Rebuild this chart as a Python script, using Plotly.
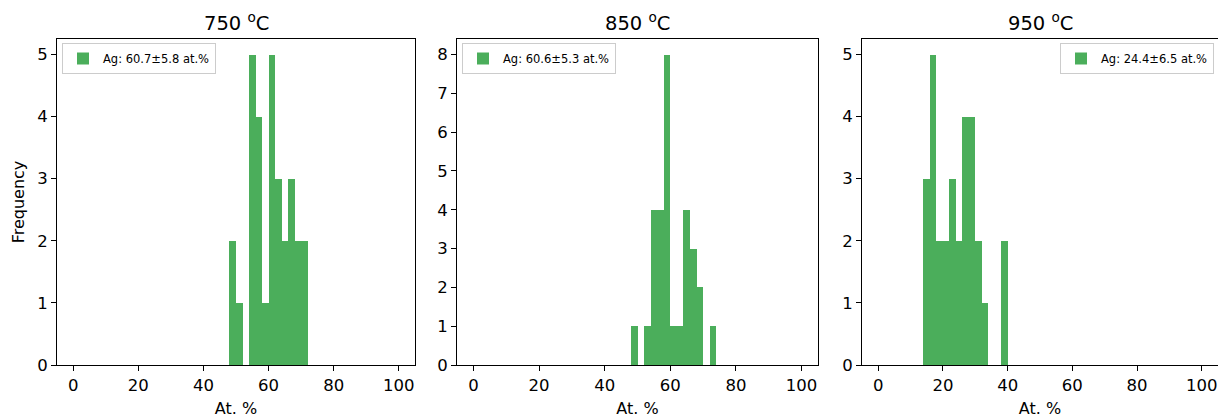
import plotly.graph_objects as go

# Histogram data (bin left edges, counts), bin width 2 at.%
titles = ["750 <sup>o</sup>C", "850 <sup>o</sup>C", "950 <sup>o</sup>C"]
legend_labels = ["Ag: 60.7±5.8 at.%", "Ag: 60.6±5.3 at.%", "Ag: 24.4±6.5 at.%"]

bins_750 = [48, 50, 54, 56, 58, 60, 62, 64, 66, 68, 70]
counts_750 = [2, 1, 5, 4, 1, 5, 3, 2, 3, 2, 2]

bins_850 = [48, 52, 54, 56, 58, 60, 62, 64, 66, 68, 72]
counts_850 = [1, 1, 4, 4, 8, 1, 1, 4, 3, 2, 1]

bins_950 = [14, 16, 18, 20, 22, 24, 26, 28, 30, 32, 38]
counts_950 = [3, 5, 2, 2, 3, 2, 4, 4, 2, 1, 2]

bin_width = 2
x_ticks = [0, 20, 40, 60, 80, 100]
y_ranges = [[0, 5.25], [0, 8.4], [0, 5.25]]

W, H = 1218, 418
color = "#4bae5b"
font = "DejaVu Sans"

data = [(bins_750, counts_750), (bins_850, counts_850), (bins_950, counts_950)]
x_px = [(57, 415), (457, 818), (862, 1218)]
y_dom = [1 - 365 / H, 1 - 39 / H]

fig = go.Figure()
for i, (b, c) in enumerate(data):
    ax = "" if i == 0 else str(i + 1)
    fig.add_trace(go.Bar(
        x=b, y=c, width=[bin_width] * len(b), offset=0,
        marker=dict(color=color, line=dict(width=0)),
        name=legend_labels[i], showlegend=True,
        xaxis="x" + ax, yaxis="y" + ax,
        legend="legend" + ax,
    ))

layout = dict(
    width=W, height=H, margin=dict(l=0, r=0, t=0, b=0),
    plot_bgcolor="white", paper_bgcolor="white",
    font=dict(family=font, color="black"),
    bargap=0, annotations=[],
)
for i in range(3):
    ax = "" if i == 0 else str(i + 1)
    x0, x1 = x_px[i]
    layout["xaxis" + ax] = dict(
        domain=[x0 / W, min(x1 / W, 1)], anchor="y" + ax, range=[-5, 105],
        tickvals=x_ticks, ticks="outside", ticklen=5, tickcolor="black",
        showline=True, linecolor="black", linewidth=1, mirror=True,
        showgrid=False, zeroline=False, automargin=False,
        tickfont=dict(size=16.5, family=font),
        title=dict(text="At. %", font=dict(size=16, family=font), standoff=9),
    )
    ymax = y_ranges[i][1]
    layout["yaxis" + ax] = dict(
        domain=y_dom, anchor="x" + ax, range=y_ranges[i],
        tickvals=list(range(0, int(ymax) + 1)), ticks="outside", ticklen=5,
        tickcolor="black", showline=True, linecolor="black", linewidth=1,
        mirror=True, showgrid=False, zeroline=False, automargin=False,
        tickfont=dict(size=16.5, family=font),
    )
    layout["annotations"].append(dict(
        text=titles[i], x=(x0 + min(x1, W)) / 2 / W, y=1 - 22 / H,
        xref="paper", yref="paper", showarrow=False,
        font=dict(size=19.5, family=font), xanchor="center", yanchor="middle",
    ))
    if i < 2:
        lx, la = (x0 + 5) / W, "left"
    else:
        lx, la = (W - 4) / W, "right"
    layout["legend" + ax] = dict(
        x=lx, xanchor=la, y=1 - 43 / H, yanchor="top",
        bgcolor="white", bordercolor="#cccccc", borderwidth=1,
        font=dict(size=11.5, family=font), itemwidth=30,
        tracegroupgap=0,
    )

layout["yaxis"]["title"] = dict(text="Frequency", font=dict(size=16, family=font), standoff=8)
fig.update_layout(**layout)
fig.write_html("out.html", config={"displayModeBar": False},
               post_script="document.body.style.margin='0';")
